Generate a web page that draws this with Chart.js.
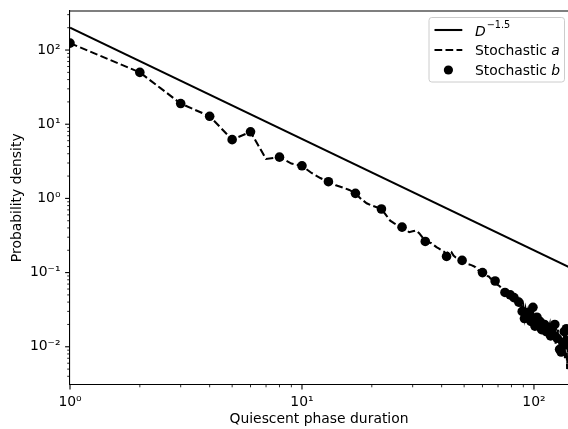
<!DOCTYPE html>
<html><head><meta charset="utf-8">
<script src="https://cdn.jsdelivr.net/npm/chart.js@4"></script>
<style>html,body{margin:0;padding:0;background:#fff}canvas{display:block}</style>
</head><body>
<canvas id="c" width="568" height="429"></canvas>
<script>
// ---- data ----
const lawX = [1, 150];
const lawY = [200, 0.1089];

const aX = [1,2,3,4,5,6,7,8,9,10,11,12,13,14,15,16,17,18,19,20,21,22,23,24,25,26,27,28,29,30,
31,32,33,34,35,36,37,38,39,40,41,42,43,44,45,46,47,48,49,50,51,52,53,54,55,56,57,58,59,60,
61,62,63,64,65,66,67,68,69,70,71,72,73,74,75,76,77,78,79,80,81,82,83,84,85,86,87,88,89,90,
91,92,93,94,95,96,97,98,99,100,101,102,103,104,105,106,107,108,109,110,111,112,113,114,115,
116,117,118,119,120,121,122,123,124,125,126,127,128,129,130,131,132,133,134,135,136,137,138,139,140,141];
const aY = [124,50,19,12.8,6.2,7.9,3.4,3.6,2.95,2.75,2.2,1.88,1.68,1.5,1.4,1.3,1.17,0.98,0.86,0.8,
0.76,0.72,0.6,0.5,0.46,0.43,0.41,0.38,0.35,0.36,0.37,0.34,0.3,0.263,0.255,0.25,0.235,0.22,0.21,0.2,
0.19,0.175,0.195,0.19,0.17,0.16,0.155,0.15,0.146,0.14,0.135,0.13,0.128,0.125,0.122,0.118,0.11,0.105,0.102,0.1,
0.097,0.094,0.09,0.088,0.083,0.082,0.079,0.077,0.07,0.068,0.066,0.063,0.06,0.058,0.054,0.056,0.05,0.053,0.048,0.052,
0.044,0.047,0.04,0.045,0.037,0.042,0.034,0.038,0.03,0.035,0.025,0.032,0.026,0.03,0.023,0.031,0.022,0.028,0.033,0.02,
0.019,0.026,0.025,0.016,0.024,0.022,0.017,0.017,0.023,0.015,0.02,0.018,0.016,0.021,0.013,0.018,0.02,0.014,0.012,0.0175,
0.015,0.02,0.02,0.011,0.016,0.013,0.017,0.01,0.0092,0.014,0.0085,0.012,0.0115,0.009,0.016,0.007,0.013,0.0175,0.005,0.012,0.009];

const bX = [1,2,3,4,5,6,8,10,13,17,22,27,34,42,49,60,68,75,79,82,86,89,91,94,97,99,101,103,106,108,
111,113,116,118,120,123,126,129,131,133,135,138,140];
const bY = [124,50,19,12.8,6.2,7.9,3.6,2.75,1.68,1.17,0.72,0.41,0.263,0.165,0.146,0.1,0.077,0.054,0.05,0.046,
0.04,0.03,0.024,0.029,0.022,0.034,0.019,0.025,0.022,0.017,0.02,0.016,0.018,0.014,0.0175,0.02,0.013,0.0092,0.0085,0.0115,
0.016,0.0175,0.012];

const xTicks = [1, 10, 100];
const yTicks = [0.01, 0.1, 1, 10, 100];
const seriesNames = ['D', 'Stochastic ', 'Stochastic '];

// ---- helpers ----
const FONT = 'DejaVu Sans';
const FS = 13.9;
const SUP = {'0':'\u2070','1':'\u00B9','2':'\u00B2','3':'\u00B3','-':'\u207B'};
function powLabel(v){
  const e = Math.round(Math.log10(v));
  return '10' + String(e).split('').map(c => SUP[c]).join('');
}
const pairs = (xs, ys) => xs.map((x, i) => ({x, y: ys[i]}));

function minorVals(lo, hi){
  const out = [];
  for (let d = Math.floor(Math.log10(lo)) ; d <= Math.ceil(Math.log10(hi)); d++){
    for (let m = 2; m <= 9; m++){
      const v = m * Math.pow(10, d);
      if (v >= lo && v <= hi) out.push(v);
    }
  }
  return out;
}

const axisPlugin = {
  id: 'axisDecor',
  afterDraw(chart){
    const {ctx, chartArea: a, scales: {x, y}} = chart;
    ctx.save();
    ctx.strokeStyle = '#000';
    ctx.lineCap = 'butt';
    ctx.lineWidth = 1.2;
    ctx.beginPath(); ctx.moveTo(a.left - 0.5, a.top); ctx.lineTo(a.right, a.top); ctx.stroke();
    const seg = (x1,y1,x2,y2,w) => { ctx.lineWidth = w; ctx.beginPath(); ctx.moveTo(x1,y1); ctx.lineTo(x2,y2); ctx.stroke(); };
    minorVals(x.min, x.max).forEach(v => { const p = x.getPixelForValue(v); seg(p, a.bottom, p, a.bottom + 2.8, 0.83); });
    xTicks.forEach(v => { const p = x.getPixelForValue(v); seg(p, a.bottom, p, a.bottom + 4.9, 1.1); });
    minorVals(y.min, y.max).forEach(v => { const p = y.getPixelForValue(v); seg(a.left, p, a.left - 2.8, p, 0.83); });
    yTicks.forEach(v => { const p = y.getPixelForValue(v); seg(a.left, p, a.left - 4.9, p, 1.1); });

    // legend
    const L = 429, R = 564.5, T = 17.5, B = 82, r = 2.8;
    ctx.beginPath();
    ctx.moveTo(L + r, T); ctx.lineTo(R - r, T); ctx.arcTo(R, T, R, T + r, r);
    ctx.lineTo(R, B - r); ctx.arcTo(R, B, R - r, B, r);
    ctx.lineTo(L + r, B); ctx.arcTo(L, B, L, B - r, r);
    ctx.lineTo(L, T + r); ctx.arcTo(L, T, L + r, T, r);
    ctx.closePath();
    ctx.fillStyle = 'rgba(255,255,255,0.8)'; ctx.fill();
    ctx.strokeStyle = '#cccccc'; ctx.lineWidth = 1; ctx.stroke();

    const hx1 = 434.5, hx2 = 462.3, tx = 475;
    const rows = [30, 50, 70];
    ctx.strokeStyle = '#000'; ctx.fillStyle = '#000';
    ctx.lineWidth = 2.08;
    ctx.beginPath(); ctx.moveTo(hx1, rows[0]); ctx.lineTo(hx2, rows[0]); ctx.stroke();
    ctx.setLineDash([7.7, 3.3]);
    ctx.beginPath(); ctx.moveTo(hx1, rows[1]); ctx.lineTo(hx2, rows[1]); ctx.stroke();
    ctx.setLineDash([]);
    ctx.beginPath(); ctx.arc((hx1 + hx2) / 2, rows[2], 4.6, 0, Math.PI * 2); ctx.fill();

    ctx.textBaseline = 'alphabetic'; ctx.textAlign = 'left';
    ctx.font = 'italic ' + FS + 'px "' + FONT + '"';
    ctx.fillText(seriesNames[0], tx, rows[0] + 5.5);
    const dW = ctx.measureText(seriesNames[0]).width;
    ctx.font = (FS * 0.7).toFixed(2) + 'px "' + FONT + '"';
    ctx.fillText('\u22121.5', tx + dW + 1, rows[0] - 2);

    [1, 2].forEach((i) => {
      ctx.font = FS + 'px "' + FONT + '"';
      ctx.fillText(seriesNames[i], tx, rows[i] + 5);
      const w = ctx.measureText(seriesNames[i]).width;
      ctx.font = 'italic ' + FS + 'px "' + FONT + '"';
      ctx.fillText(i === 1 ? 'a' : 'b', tx + w, rows[i] + 5);
    });
    ctx.restore();
  }
};

const tickFont = {family: FONT, size: FS};

new Chart(document.getElementById('c'), {
  type: 'scatter',
  data: {
    datasets: [
      {label: 'Stochastic b', data: pairs(bX, bY), showLine: false, pointRadius: 4.8, pointHoverRadius: 4.8,
       backgroundColor: '#000', borderColor: '#000', borderWidth: 0, order: 1},
      {label: 'Stochastic a', data: pairs(aX, aY), showLine: true, pointRadius: 0, borderColor: '#000',
       borderWidth: 2.08, borderDash: [7.7, 3.3], fill: false, tension: 0, order: 2},
      {label: 'D^-1.5', data: pairs(lawX, lawY), showLine: true, pointRadius: 0, borderColor: '#000',
       borderWidth: 2.08, fill: false, tension: 0, order: 3}
    ]
  },
  options: {
    responsive: false, animation: false, devicePixelRatio: 1,
    layout: {autoPadding: false, padding: {top: 11, right: 0, left: 0, bottom: 0}},
    plugins: {legend: {display: false}, tooltip: {enabled: false}},
    events: [],
    scales: {
      x: {
        type: 'logarithmic', min: 1, max: 140.2, position: 'bottom',
        grid: {display: true, drawOnChartArea: false, drawTicks: false},
        border: {display: true, color: '#000', width: 1.1},
        ticks: {color: '#000', font: tickFont, padding: 9.5, autoSkip: false, maxRotation: 0,
                callback: (v) => powLabel(v)},
        afterBuildTicks: (s) => { s.ticks = xTicks.map(v => ({value: v})); },
        afterFit: (s) => { s.height = 44.5; s.paddingLeft = 0; s.paddingRight = 0; },
        title: {display: true, text: 'Quiescent phase duration', color: '#000', font: tickFont,
                padding: {top: 0, bottom: 1}}
      },
      y: {
        type: 'logarithmic', min: 0.0031, max: 336, position: 'left',
        grid: {display: true, drawOnChartArea: false, drawTicks: false},
        border: {display: true, color: '#000', width: 1.1},
        ticks: {color: '#000', font: tickFont, padding: 9.5, autoSkip: false,
                callback: (v) => powLabel(v)},
        afterBuildTicks: (s) => { s.ticks = yTicks.map(v => ({value: v})); },
        afterFit: (s) => { s.width = 70; s.paddingTop = 0; s.paddingBottom = 0; },
        title: {display: true, text: 'Probability density', color: '#000', font: tickFont,
                padding: {top: 9, bottom: 0}}
      }
    }
  },
  plugins: [axisPlugin]
});
</script>
</body></html>
